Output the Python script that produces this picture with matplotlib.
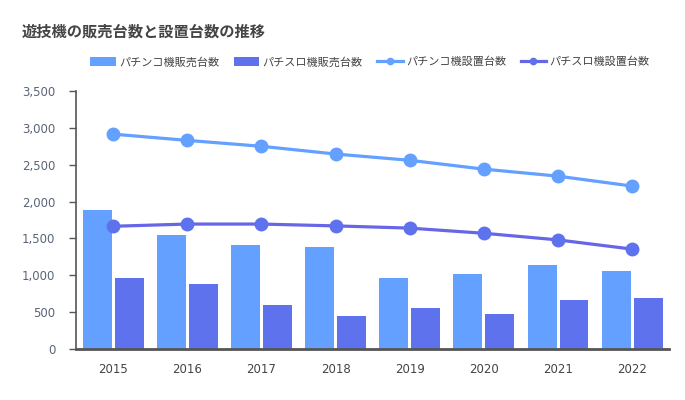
import numpy as np
import matplotlib
matplotlib.use('Agg')
import matplotlib.pyplot as plt

plt.rcParams['font.family'] = ['Noto Sans CJK JP', 'DejaVu Sans']

years = ['2015', '2016', '2017', '2018', '2019', '2020', '2021', '2022']
pachinko_sales = [1880, 1545, 1410, 1385, 965, 1020, 1140, 1060]
slot_sales = [965, 880, 600, 450, 555, 475, 665, 690]
pachinko_installed = [2915, 2830, 2750, 2645, 2560, 2440, 2345, 2210]
slot_installed = [1665, 1695, 1695, 1670, 1640, 1570, 1480, 1355]

labels = ['パチンコ機販売台数', 'パチスロ機販売台数', 'パチンコ機設置台数', 'パチスロ機設置台数']

c_light = '#64a0ff'
c_dark = '#5f72ee'
c_line2 = '#6766e6'

fig = plt.figure(figsize=(6.85, 4.0), dpi=100)
ax = fig.add_axes([0.111, 0.1275, 0.866, 0.645])

x = np.arange(len(years))
w = 0.39
b1 = ax.bar(x - 0.215, pachinko_sales, w, color=c_light, label=labels[0], zorder=2)
b2 = ax.bar(x + 0.215, slot_sales, w, color=c_dark, label=labels[1], zorder=2)
l1, = ax.plot(x, pachinko_installed, color=c_light, lw=2.3, marker='o', ms=9,
              label=labels[2], zorder=3)
l2, = ax.plot(x, slot_installed, color=c_line2, lw=2.3, marker='o', ms=9,
              markerfacecolor=c_dark, markeredgecolor=c_dark, label=labels[3], zorder=3)

ax.set_xlim(-0.5, 7.5)
ax.set_ylim(0, 3500)
ax.set_yticks(range(0, 3501, 500))
ax.set_yticklabels(['{:,}'.format(v) for v in range(0, 3501, 500)])
ax.set_xticks(x)
ax.set_xticklabels(years)

for s in ['top', 'right']:
    ax.spines[s].set_visible(False)
ax.spines['left'].set_color('#555555')
ax.spines['bottom'].set_color('#555555')
ax.spines['left'].set_linewidth(1.2)
ax.spines['bottom'].set_linewidth(2)
ax.tick_params(axis='y', colors='#555555', labelcolor='#5a6475', labelsize=8.5,
               length=5, width=1, pad=10)
ax.tick_params(axis='x', length=0, labelcolor='#444444', labelsize=8.5, pad=10)
for t in ax.get_xticklabels() + ax.get_yticklabels():
    t.set_family('DejaVu Sans')

fig.text(0.032, 0.92, '遊技機の販売台数と設置台数の推移', fontsize=11,
         fontweight='bold', color='#444444', va='center')

fig.legend(handles=[b1, b2, l1, l2], labels=labels, loc='center',
           bbox_to_anchor=(0.54, 0.845), ncol=4, frameon=False, fontsize=8,
           handlelength=2.3, handleheight=0.9, columnspacing=1.3,
           handletextpad=0.3, labelcolor='#444444', markerscale=0.5)

fig.savefig('out.png', dpi=100)
